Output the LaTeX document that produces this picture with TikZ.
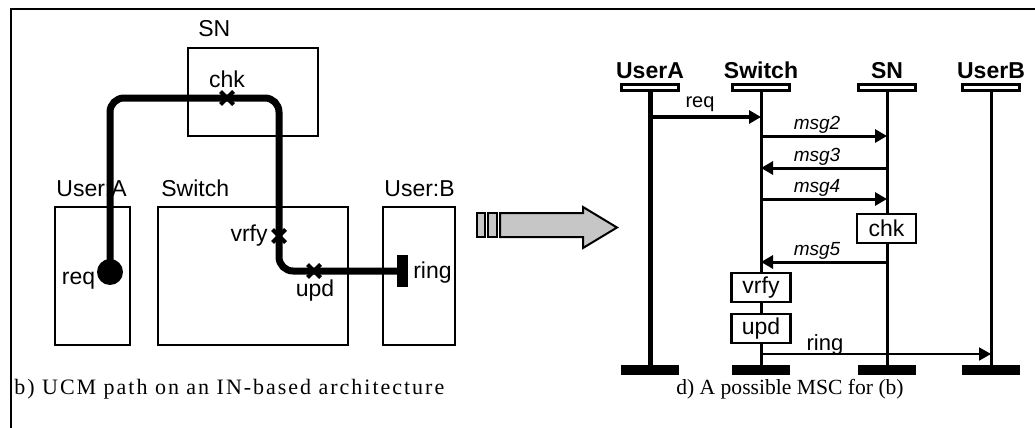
\documentclass[tikz,border=0pt]{standalone}
\usepackage{fontspec}
\setmainfont{Liberation Serif}
\setsansfont{Liberation Sans}
\usetikzlibrary{arrows.meta,positioning,fit,calc,shapes.misc}
\newcommand{\fsz}[1]{\fontsize{#1}{#1}\selectfont}

\begin{document}
\begin{tikzpicture}[x=0.5pt,y=-0.5pt,
    comp/.style={draw,line width=1pt,inner sep=0pt},
    cname/.style={font=\sffamily\fsz{11.5},anchor=base west,inner sep=0pt},
    txt/.style={font=\sffamily\fsz{11.5},inner sep=0pt},
    ucm/.style={line width=3.5pt,rounded corners=7pt},
    resp/.style={cross out,draw,line width=2pt,minimum size=4.5pt,inner sep=0pt},
    inst/.style={draw,line width=1.2pt,minimum width=28.5pt,minimum height=3pt,inner sep=0pt},
    iname/.style={font=\sffamily\bfseries\fsz{11.5},anchor=base,inner sep=0pt},
    iend/.style={fill,minimum width=29pt,minimum height=5pt,inner sep=0pt},
    life/.style={line width=1.5pt},
    msg/.style={-{Triangle[length=6pt,width=6.5pt]},line width=1.5pt},
    mlbl/.style={font=\sffamily\itshape\fsz{9.5},anchor=base,inner sep=0pt},
    act/.style={draw,fill=white,line width=1.2pt,inner sep=0pt,font=\sffamily\fsz{11.5},
                minimum width=29.5pt,minimum height=14.5pt},
    capt/.style={font=\fsz{10.8},anchor=base,inner sep=0pt}
  ]
  \useasboundingbox (0,0) rectangle (1035,428);
  \draw[line width=1pt] (11,428) -- (11,9) -- (1035,9);

  % UCM view
  \node[comp,fit={(188,48) (318,136)}] (sn) {};
  \node[comp,fit={(55,207) (130,345)}] (usera) {};
  \node[comp,fit={(158,207) (348,345)}] (switch) {};
  \node[comp,fit={(383,207) (455,345)}] (userb) {};
  \node[cname] at ($(sn.north west)+(11,-10)$) {SN};
  \node[cname] at ($(usera.north west)+(2,-10)$) {User:A};
  \node[cname] at ($(switch.north west)+(4,-10)$) {Switch};
  \node[cname] at ($(userb.north west)+(2,-10)$) {User:B};

  \node[circle,fill,minimum size=13pt,inner sep=0pt] (req) at (110,272) {};
  \node[fill,minimum width=5.5pt,minimum height=16pt,inner sep=0pt] (ring) at (402,271) {};
  \coordinate (p1) at (110,98);
  \coordinate (p2) at (279,98);
  \coordinate (p3) at (279,271);
  \draw[ucm] (req.center) -- (p1) -- (p2) -- (p3) -- (ring.center);
  \node[resp] (chk) at (227,98) {};
  \node[resp] (vrfy) at (279,236) {};
  \node[resp] (upd) at (314,271) {};
  \node[txt,anchor=base] at ($(chk)+(0,-11)$) {chk};
  \node[txt,anchor=base east] at ($(vrfy)+(-11,5)$) {vrfy};
  \node[txt,anchor=base] at ($(upd)+(1,25)$) {upd};
  \node[txt,anchor=base east] at ($(req.west)+(-1,12)$) {req};
  \node[txt,anchor=base west] at ($(ring.east)+(5,7)$) {ring};

  % transformation arrow
  \draw[line width=1pt,fill=gray!45] (477,213) rectangle (485,237);
  \draw[line width=1pt,fill=gray!45] (488,213) rectangle (497,237);
  \draw[line width=1pt,fill=gray!45] (500,213) -- (583,213) -- (583,207) -- (617,227.5)
    -- (583,248) -- (583,237) -- (500,237) -- cycle;

  % MSC view
  \foreach \n/\x/\t in {ua/650/UserA,sw/761/Switch,sv/887/SN,ub/991/UserB}{
    \node[inst] (\n) at (\x,87.5) {};
    \node[iname] (\n-t) at (\x,78) {\t};
    \node[iend] (\n-e) at (\x,370) {};
  }
  \draw[life,line width=2.5pt] (ua) -- (ua-e);
  \foreach \n in {sw,sv,ub} \draw[life] (\n) -- (\n-e);

  \draw[msg,line width=2pt] (ua |- 0,117) -- (sw |- 0,117);
  \node[txt,anchor=base,font=\sffamily\fsz{10}] at (700,107) {req};
  \foreach \a/\b/\y/\t in {sw/sv/136/msg2,sv/sw/168/msg3,sw/sv/199/msg4,sv/sw/262/msg5}{
    \draw[msg] (\a |- 0,\y) -- (\b |- 0,\y);
    \node[mlbl] at (817,\y-7) {\t};
  }
  \draw[msg,line width=1pt] (sw |- 0,354) -- (ub |- 0,354);
  \node[txt,anchor=base,font=\sffamily\fsz{11}] at (825,350) {ring};

  \node[act] (chk2) at (886.5,228.5) {chk};
  \node[act] (vrfy2) at (761,287.5) {vrfy};
  \node[act] (upd2) at (761,328.5) {upd};

  % captions
  \node[capt,anchor=base west,font=\fsz{11}\addfontfeature{LetterSpace=9}] (capb) at (14,394)
    {b) UCM path on an IN-based architecture};
  \node[capt] (capd) at (790,394) {d) A possible MSC for (b)};
\end{tikzpicture}
\end{document}
